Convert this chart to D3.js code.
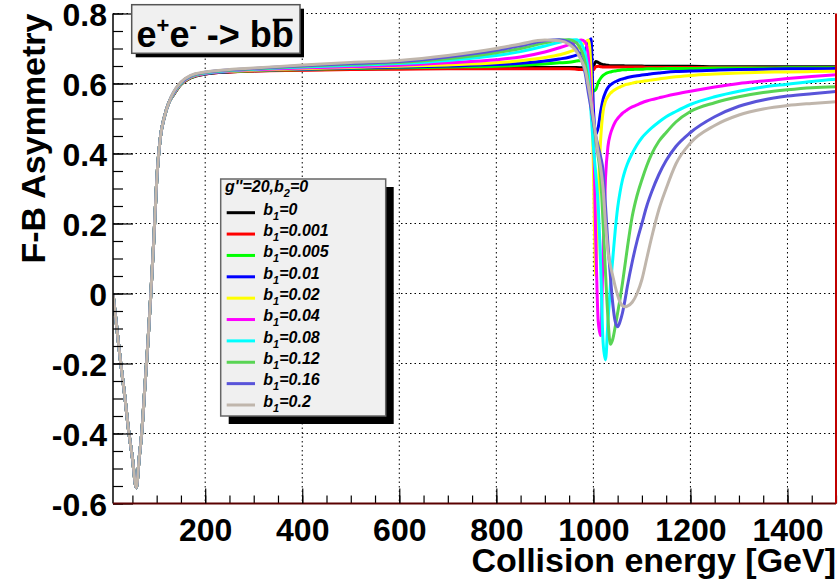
<!DOCTYPE html>
<html lang="en">
<head>
<meta charset="UTF-8">
<title>F-B Asymmetry</title>
<style>
  body { margin: 0; background: #fff; }
  svg { display: block; }
  text { font-family: 'Liberation Sans', Arial, Helvetica, sans-serif; }
</style>
</head>
<body>
<div id="chart"></div>
<script src="https://cdnjs.cloudflare.com/ajax/libs/d3/7.8.5/d3.min.js"></script>
<script>
// collision energy grid [GeV], shared by every curve
const energy = [10, 18, 26, 34, 42, 50, 58, 64, 70, 76, 82, 88, 94, 100, 108, 116, 125,
  135, 150, 170, 200, 250, 300, 400, 500, 600, 700, 800, 850, 900, 930, 950, 965, 975, 983, 990,
  995, 1000, 1005, 1010, 1015, 1020, 1025, 1030, 1035, 1040, 1045, 1050, 1055, 1060, 1065, 1070,
  1080, 1090, 1100, 1110, 1120, 1135, 1150, 1170, 1200, 1250, 1300, 1350, 1400, 1450, 1500]

// F-B asymmetry, one array per b1 value
const asymB1_0 = [0.00, -0.10, -0.20, -0.29, -0.39, -0.47, -0.555, -0.47, -0.385, -0.26, -0.14, 0.00, 0.15, 0.32, 0.45, 0.505, 0.545,
  0.568, 0.597, 0.616, 0.627, 0.633, 0.636, 0.639, 0.641, 0.643, 0.644, 0.645, 0.646, 0.646, 0.646, 0.646, 0.646, 0.645, 0.644, 0.642,
  0.640, 0.648, 0.663, 0.660, 0.656, 0.654, 0.653, 0.652, 0.651, 0.651, 0.651, 0.651, 0.651, 0.651, 0.650, 0.650,
  0.650, 0.650, 0.650, 0.649, 0.649, 0.649, 0.649, 0.649, 0.649, 0.648, 0.648, 0.648, 0.648, 0.648, 0.648]
const asymB1_0001 = [0.00, -0.10, -0.20, -0.29, -0.39, -0.47, -0.555, -0.47, -0.385, -0.26, -0.14, 0.00, 0.15, 0.32, 0.45, 0.505, 0.545,
  0.569, 0.598, 0.617, 0.627, 0.633, 0.636, 0.638, 0.640, 0.641, 0.642, 0.642, 0.642, 0.642, 0.642, 0.642, 0.641, 0.640, 0.639, 0.637,
  0.636, 0.639, 0.648, 0.649, 0.648, 0.647, 0.647, 0.647, 0.647, 0.647, 0.647, 0.647, 0.647, 0.647, 0.647, 0.647,
  0.647, 0.647, 0.647, 0.646, 0.646, 0.646, 0.646, 0.646, 0.646, 0.646, 0.646, 0.645, 0.645, 0.645, 0.645]
const asymB1_0005 = [0.00, -0.10, -0.20, -0.29, -0.39, -0.47, -0.555, -0.47, -0.385, -0.26, -0.14, 0.00, 0.15, 0.32, 0.45, 0.505, 0.545,
  0.569, 0.598, 0.617, 0.628, 0.634, 0.637, 0.640, 0.643, 0.645, 0.647, 0.649, 0.652, 0.656, 0.659, 0.661, 0.664, 0.666, 0.667, 0.658,
  0.605, 0.578, 0.583, 0.603, 0.615, 0.623, 0.628, 0.631, 0.633, 0.635, 0.636, 0.637, 0.638, 0.639, 0.639, 0.640,
  0.640, 0.641, 0.641, 0.642, 0.642, 0.642, 0.643, 0.643, 0.643, 0.644, 0.644, 0.644, 0.645, 0.645, 0.645]
const asymB1_001 = [0.00, -0.10, -0.20, -0.29, -0.39, -0.47, -0.555, -0.47, -0.385, -0.26, -0.14, 0.00, 0.15, 0.32, 0.45, 0.505, 0.545,
  0.570, 0.599, 0.618, 0.628, 0.634, 0.638, 0.641, 0.644, 0.647, 0.650, 0.654, 0.658, 0.664, 0.670, 0.675, 0.681, 0.687, 0.695, 0.716,
  0.728, 0.530, 0.455, 0.475, 0.520, 0.555, 0.575, 0.588, 0.596, 0.601, 0.605, 0.608, 0.611, 0.613, 0.615, 0.617,
  0.620, 0.622, 0.624, 0.626, 0.628, 0.630, 0.632, 0.634, 0.636, 0.638, 0.640, 0.641, 0.642, 0.642, 0.643]
const asymB1_002 = [0.00, -0.10, -0.20, -0.29, -0.39, -0.47, -0.555, -0.47, -0.385, -0.26, -0.14, 0.00, 0.15, 0.32, 0.45, 0.505, 0.545,
  0.570, 0.599, 0.618, 0.629, 0.635, 0.638, 0.642, 0.646, 0.649, 0.653, 0.659, 0.665, 0.674, 0.682, 0.690, 0.699, 0.708, 0.718, 0.724,
  0.640, 0.360, 0.050, 0.280, 0.440, 0.520, 0.550, 0.563, 0.572, 0.578, 0.583, 0.587, 0.590, 0.593, 0.596, 0.598,
  0.601, 0.604, 0.606, 0.608, 0.610, 0.613, 0.616, 0.619, 0.623, 0.627, 0.630, 0.632, 0.633, 0.634, 0.635]
const asymB1_004 = [0.00, -0.10, -0.20, -0.29, -0.39, -0.47, -0.555, -0.47, -0.385, -0.26, -0.14, 0.00, 0.15, 0.32, 0.45, 0.505, 0.545,
  0.571, 0.600, 0.619, 0.629, 0.636, 0.639, 0.644, 0.648, 0.652, 0.659, 0.668, 0.676, 0.690, 0.702, 0.711, 0.719, 0.724, 0.719, 0.670,
  0.570, 0.480, 0.150, -0.080, -0.120, 0.120, 0.330, 0.420, 0.455, 0.475, 0.490, 0.500, 0.508, 0.515, 0.520, 0.525,
  0.533, 0.539, 0.545, 0.550, 0.554, 0.559, 0.564, 0.570, 0.578, 0.590, 0.600, 0.607, 0.614, 0.620, 0.625]
const asymB1_008 = [0.00, -0.10, -0.20, -0.29, -0.39, -0.47, -0.555, -0.47, -0.385, -0.26, -0.14, 0.00, 0.15, 0.32, 0.45, 0.505, 0.545,
  0.573, 0.601, 0.620, 0.630, 0.637, 0.641, 0.647, 0.652, 0.657, 0.666, 0.680, 0.691, 0.707, 0.718, 0.724, 0.725, 0.714, 0.685, 0.625,
  0.520, 0.420, 0.340, 0.250, 0.080, -0.140, -0.190, -0.080, 0.020, 0.100, 0.180, 0.245, 0.290, 0.325, 0.350, 0.370,
  0.400, 0.425, 0.445, 0.460, 0.473, 0.490, 0.505, 0.520, 0.540, 0.562, 0.578, 0.590, 0.598, 0.606, 0.612]
const asymB1_012 = [0.00, -0.10, -0.20, -0.29, -0.39, -0.47, -0.555, -0.47, -0.385, -0.26, -0.14, 0.00, 0.15, 0.32, 0.45, 0.505, 0.545,
  0.574, 0.602, 0.621, 0.631, 0.638, 0.642, 0.649, 0.655, 0.660, 0.671, 0.688, 0.700, 0.716, 0.724, 0.725, 0.716, 0.695, 0.660, 0.595,
  0.540, 0.490, 0.440, 0.390, 0.330, 0.200, 0.060, -0.070, -0.145, -0.130, -0.095, -0.055, -0.015, 0.030, 0.080, 0.130,
  0.220, 0.280, 0.325, 0.365, 0.398, 0.435, 0.460, 0.490, 0.520, 0.545, 0.562, 0.574, 0.582, 0.588, 0.591]
const asymB1_016 = [0.00, -0.10, -0.20, -0.29, -0.39, -0.47, -0.555, -0.47, -0.385, -0.26, -0.14, 0.00, 0.15, 0.32, 0.45, 0.505, 0.545,
  0.575, 0.603, 0.622, 0.632, 0.639, 0.643, 0.651, 0.657, 0.663, 0.676, 0.695, 0.708, 0.722, 0.725, 0.718, 0.700, 0.672, 0.630, 0.570,
  0.530, 0.490, 0.450, 0.420, 0.390, 0.350, 0.250, 0.140, 0.050, -0.030, -0.080, -0.095, -0.080, -0.055, -0.020, 0.020,
  0.090, 0.150, 0.200, 0.250, 0.290, 0.340, 0.380, 0.420, 0.460, 0.505, 0.535, 0.553, 0.564, 0.571, 0.577]
const asymB1_02 = [0.00, -0.10, -0.20, -0.29, -0.39, -0.47, -0.555, -0.47, -0.385, -0.26, -0.14, 0.00, 0.15, 0.32, 0.45, 0.505, 0.545,
  0.576, 0.604, 0.623, 0.633, 0.640, 0.644, 0.653, 0.660, 0.666, 0.680, 0.700, 0.713, 0.724, 0.722, 0.712, 0.692, 0.667, 0.640, 0.590,
  0.550, 0.500, 0.450, 0.400, 0.360, 0.300, 0.200, 0.120, 0.080, 0.050, 0.020, -0.005, -0.025, -0.035, -0.038, -0.036,
  -0.025, 0.000, 0.040, 0.100, 0.160, 0.240, 0.300, 0.370, 0.430, 0.480, 0.510, 0.527, 0.537, 0.543, 0.548]

const b1Labels = ['0', '0.001', '0.005', '0.01', '0.02', '0.04', '0.08', '0.12', '0.16', '0.2']
const allSeries = [asymB1_0, asymB1_0001, asymB1_0005, asymB1_001, asymB1_002,
  asymB1_004, asymB1_008, asymB1_012, asymB1_016, asymB1_02]
const xTicks = [200, 400, 600, 800, 1000, 1200, 1400]
const yTicks = [-0.6, -0.4, -0.2, 0, 0.2, 0.4, 0.6, 0.8]

// ROOT palette 1..9 plus 11
const colors = ['#000000', '#ff0000', '#00ff00', '#0000ff', '#ffff00',
  '#ff00ff', '#00ffff', '#59d454', '#5954d9', '#c0b6ac']

const W = 840, H = 583
const L = 113, R = 836, T = 13.5, B = 503.5

const svg = d3.select('#chart').append('svg')
  .attr('width', W).attr('height', H)

const x = d3.scaleLinear().domain([10, 1500]).range([L, R])
const y = d3.scaleLinear().domain([-0.6, 0.8]).range([B, T])

// grid
const grid = svg.append('g').attr('stroke', '#000').attr('stroke-width', 1)
  .attr('stroke-dasharray', '1.5,3')
grid.selectAll('.gx').data(xTicks).enter().append('line')
  .attr('x1', d => x(d)).attr('x2', d => x(d)).attr('y1', T).attr('y2', B)
grid.selectAll('.gy').data(yTicks.filter(d => d > -0.6)).enter().append('line')
  .attr('x1', L).attr('x2', R).attr('y1', d => y(d)).attr('y2', d => y(d))

// curves
svg.append('defs').append('clipPath').attr('id', 'plotclip')
  .append('rect').attr('x', L).attr('y', T - 2).attr('width', R - L).attr('height', B - T + 2)

const line = d3.line()
  .x((d, i) => x(energy[i]))
  .y(d => y(d))
  .curve(d3.curveMonotoneX)

svg.append('g').attr('clip-path', 'url(#plotclip)')
  .selectAll('path').data(allSeries).enter().append('path')
  .attr('d', d => line(d))
  .attr('fill', 'none')
  .attr('stroke', (d, i) => colors[i])
  .attr('stroke-width', 3)
  .attr('stroke-linejoin', 'round')

// axes
const fontTick = '32px'
const yMinor = d3.range(-0.6, 0.8001, 0.05)
const xMinor = d3.range(50, 1500.1, 50)

const yAxis = svg.append('g').attr('transform', `translate(${L},0)`)
  .call(d3.axisLeft(y).tickValues(yMinor).tickSize(-10).tickFormat(''))
yAxis.select('.domain').remove()
const yAxisMaj = svg.append('g').attr('transform', `translate(${L},0)`)
  .call(d3.axisLeft(y).tickValues(yTicks).tickSize(-20).tickPadding(6)
    .tickFormat(d => d === 0 ? '0' : d.toFixed(1)))
yAxisMaj.select('.domain').attr('stroke', '#000').attr('stroke-width', 1.5)
  .attr('d', `M0,${T}V${B}`)
yAxisMaj.selectAll('text').style('font-size', fontTick).style('font-weight', 'bold')
  .attr('fill', '#000').attr('dy', '0.37em')

const xAxis = svg.append('g').attr('transform', `translate(0,${B})`)
  .call(d3.axisBottom(x).tickValues(xMinor).tickSize(-8).tickFormat(''))
xAxis.select('.domain').remove()
const xAxisMaj = svg.append('g').attr('transform', `translate(0,${B})`)
  .call(d3.axisBottom(x).tickValues(xTicks).tickSize(-15).tickPadding(15)
    .tickFormat(d => String(d)))
xAxisMaj.select('.domain').attr('stroke', '#5a0000').attr('stroke-width', 2)
  .attr('d', `M${L},0H${R}`)
xAxisMaj.selectAll('text').style('font-size', fontTick).style('font-weight', 'bold').attr('fill', '#000')
svg.selectAll('.tick line').attr('stroke', '#000').attr('stroke-width', 1.2)

// right frame edge
svg.append('line').attr('x1', R).attr('x2', R).attr('y1', T).attr('y2', B)
  .attr('stroke', '#c00000').attr('stroke-width', 2)

// axis titles
svg.append('text')
  .attr('transform', `translate(45,${T}) rotate(-90)`)
  .attr('text-anchor', 'end')
  .style('font-size', '34px').style('font-weight', 'bold')
  .text('F-B Asymmetry')
svg.append('text')
  .attr('x', R).attr('y', 572)
  .attr('text-anchor', 'end')
  .style('font-size', '34px').style('font-weight', 'bold')
  .text('Collision energy [GeV]')

// title box
const tb = { x: 131.7, y: 4.7, w: 168.3, h: 48.6 }
svg.append('rect').attr('x', tb.x + 4).attr('y', tb.y + 4).attr('width', tb.w).attr('height', tb.h).attr('fill', '#000')
svg.append('rect').attr('x', tb.x).attr('y', tb.y).attr('width', tb.w).attr('height', tb.h)
  .attr('fill', '#f0f0f0').attr('stroke', '#555').attr('stroke-width', 1.5)
const title = svg.append('text').attr('x', 136.5).attr('y', 46.7)
  .style('font-size', '36px').style('font-weight', 'bold')
title.append('tspan').text('e')
title.append('tspan').attr('dy', -14).style('font-size', '22px').text('+')
title.append('tspan').attr('dy', 14).text('e')
title.append('tspan').attr('dy', -14).style('font-size', '22px').text('-')
title.append('tspan').attr('dy', 14).text(' -> bb')
const tn = title.node()
const nch = tn.getNumberOfChars()
const bx0 = tn.getStartPositionOfChar(nch - 1).x
const bx1 = tn.getEndPositionOfChar(nch - 1).x
svg.append('line').attr('x1', bx0 + 1).attr('x2', bx1 - 1).attr('y1', 20).attr('y2', 20)
  .attr('stroke', '#000').attr('stroke-width', 2.5)

// legend
const lg = { x: 220.7, y: 179, w: 165, h: 237 }
svg.append('rect').attr('x', lg.x + 8).attr('y', lg.y + 8).attr('width', lg.w).attr('height', lg.h).attr('fill', '#000')
svg.append('rect').attr('x', lg.x).attr('y', lg.y).attr('width', lg.w).attr('height', lg.h)
  .attr('fill', '#f0f0f0').attr('stroke', '#666').attr('stroke-width', 1.5)

const head = svg.append('text').attr('x', 225).attr('y', 191.5)
  .style('font-size', '16px').style('font-weight', 'bold').style('font-style', 'italic')
head.append('tspan').text("g''=20,b")
head.append('tspan').attr('dy', 5).style('font-size', '11px').text('2')
head.append('tspan').attr('dy', -5).text('=0')

const rowY = d3.scaleLinear().domain([0, 9]).range([212.7, 405])
const rows = svg.append('g').selectAll('g').data(b1Labels).enter().append('g')
  .attr('transform', (d, i) => `translate(0,${rowY(i)})`)
rows.append('line').attr('x1', 226.7).attr('x2', 255).attr('y1', 0).attr('y2', 0)
  .attr('stroke', (d, i) => colors[i]).attr('stroke-width', 3)
const rt = rows.append('text').attr('x', 263.3).attr('y', 1.8)
  .style('font-size', '16px').style('font-weight', 'bold').style('font-style', 'italic')
rt.append('tspan').text('b')
rt.append('tspan').attr('dy', 5).style('font-size', '11px').text('1')
rt.append('tspan').attr('dy', -5).text(d => '=' + d)
</script>
</body>
</html>
